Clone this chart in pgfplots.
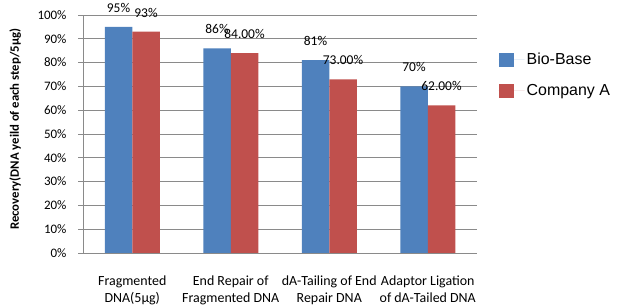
\documentclass[border=0pt]{standalone}
\usepackage{fontspec}
\setmainfont{Carlito}
\newfontfamily\arialf{Liberation Sans}
\usepackage{pgfplots}
\pgfplotsset{compat=1.18}
\definecolor{bbblue}{HTML}{4F81BD}
\definecolor{bbred}{HTML}{C0504D}
\definecolor{gridg}{HTML}{8A8A8A}
\begin{document}
\begin{tikzpicture}
\path[use as bounding box] (0,0) rectangle (617bp,307bp);
\begin{axis}[
  at={(83bp,54bp)}, anchor=south west,
  scale only axis, width=394bp, height=238bp,
  ybar=0pt, bar width=27.5bp,
  xmin=-0.5, xmax=3.5, ymin=0, ymax=100,
  ytick={0,10,...,100},
  yticklabel={\pgfmathprintnumber{\tick}\%},
  /pgf/number format/assume math mode=true,
  ymajorgrids, grid style={gridg, line width=0.8pt},
  axis x line*=bottom, axis y line*=left,
  axis line style={gridg, line width=0.8pt},
  tick style={gridg, line width=0.8pt},
  tick align=outside, major tick length=5bp,
  xtick={0,1,2,3},
  xticklabels={{Fragmented\\DNA(5μg)},{End Repair of\\Fragmented DNA},{dA-Tailing of End\\Repair DNA},{Adaptor Ligation\\of dA-Tailed DNA}},
  xtick style={draw=none},
  extra x ticks={-0.5,0.5,1.5,2.5,3.5},
  extra x tick labels={},
  extra x tick style={tick style={gridg, line width=0.8pt}},
  xticklabel style={align=center, font=\fontsize{14}{17}\selectfont, yshift=-14bp},
  yticklabel style={font=\fontsize{13}{15}\selectfont, xshift=-8bp},
  ylabel={Recovery(DNA yeild of each step/5μg)},
  ylabel style={font=\bfseries\fontsize{12.8}{15}\selectfont, at={(axis description cs:-0.172,0.52)}, anchor=center},
  point meta=explicit symbolic,
  nodes near coords,
  every node near coord/.append style={font=\fontsize{13.5}{15}\selectfont, anchor=center, yshift=19bp, text=black},
  legend style={draw=none, at={(axis description cs:1.047,0.857)}, anchor=north west, font=\arialf\fontsize{16}{19}\selectfont, row sep=14bp, fill=none},
  legend image code/.code={\fill[#1] (0bp,-7bp) rectangle (15bp,7bp); \path (0bp,0bp) -- (26bp,0bp);},
  legend cell align=left,
]
\addplot[fill=bbblue, draw=none] coordinates {(0,95) [95\%] (1,86) [86\%] (2,81) [81\%] (3,70) [70\%]};
\addplot[fill=bbred, draw=none] coordinates {(0,93) [93\%] (1,84) [84.00\%] (2,73) [73.00\%] (3,62) [62.00\%]};
\legend{Bio-Base, Company A}
\end{axis}
\end{tikzpicture}
\end{document}
